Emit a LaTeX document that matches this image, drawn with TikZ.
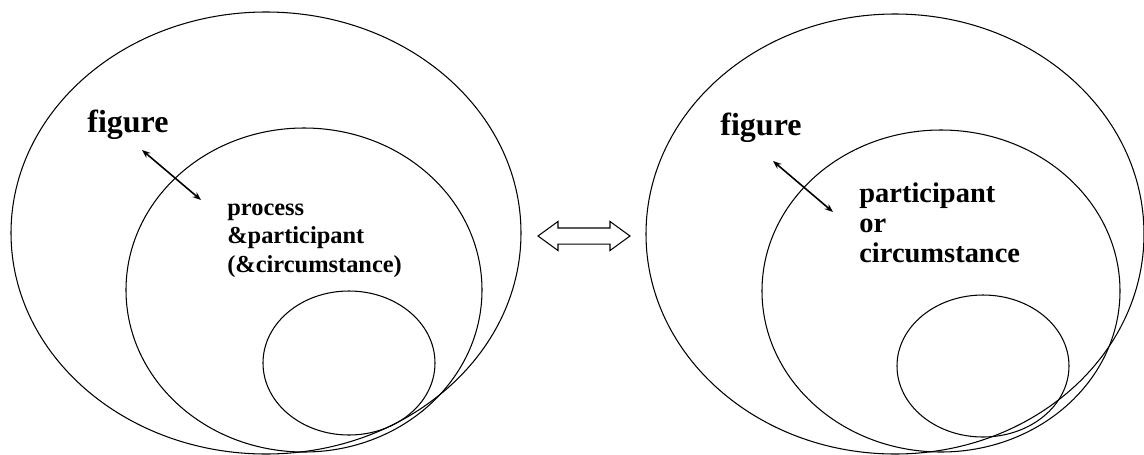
\documentclass[tikz,border=0pt]{standalone}
\usepackage{fontspec}
\setmainfont{Liberation Serif}
\usetikzlibrary{arrows.meta,shapes.arrows}
\begin{document}
\begin{tikzpicture}[
    x=0.02cm, y=-0.02cm,
    region/.style={draw, line width=0.6pt},
    word/.style={font=\bfseries\fontsize{18.2pt}{20pt}\selectfont, inner sep=0pt, anchor=base},
    label/.style={font=\bfseries\fontsize{13.9pt}{16.2pt}\selectfont, inner sep=0pt, align=left, anchor=base west},
    biglabel/.style={font=\bfseries\fontsize{16.2pt}{16.8pt}\selectfont, inner sep=0pt, align=left, anchor=base west},
    link/.style={{Stealth[length=0.17cm,width=0.13cm]}-{Stealth[length=0.17cm,width=0.13cm]}, line width=0.9pt},
    swap/.style={double arrow, draw, line width=0.6pt, inner xsep=0pt, inner ysep=0.15cm, minimum height=1.84cm, double arrow head extend=0.13cm, double arrow tip angle=72}
]
    \useasboundingbox (0,0) rectangle (1144,454);

    % left: process & participant
    \draw[region] (266,233) ellipse [x radius=255, y radius=221];
    \draw[region] (304,290) ellipse [x radius=178, y radius=162];
    \draw[region] (349,363) ellipse [x radius=86, y radius=72];
    \node[word] (figL) at (128,132) {figure};
    \node[label] (textL) at (227,272) {process\\\&participant\\(\&circumstance)};
    \coordinate (figLend) at (142,150);
    \coordinate (textLend) at (201,200);
    \draw[link] (figLend) -- (textLend);

    % swap
    \node[swap] (change) at (584,236) {};

    % right: participant or circumstance
    \draw[region] (895,234) ellipse [x radius=249, y radius=220];
    \draw[region] (941,291) ellipse [x radius=179, y radius=161];
    \draw[region] (983,366) ellipse [x radius=86, y radius=71];
    \node[word] (figR) at (761,135) {figure};
    \node[biglabel] (textR) at (859,262) {participant\\or\\circumstance};
    \coordinate (figRend) at (773,161);
    \coordinate (textRend) at (833,212);
    \draw[link] (figRend) -- (textRend);
\end{tikzpicture}
\end{document}
